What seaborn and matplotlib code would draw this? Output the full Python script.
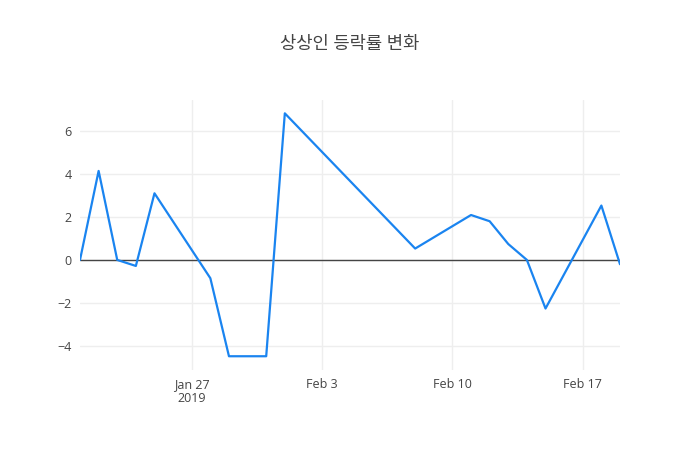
import pandas as pd
import seaborn as sns
import matplotlib.pyplot as plt

dates = ['2019-01-21', '2019-01-22', '2019-01-23', '2019-01-24', '2019-01-25',
         '2019-01-28', '2019-01-29', '2019-01-30', '2019-01-31', '2019-02-01',
         '2019-02-08', '2019-02-11', '2019-02-12', '2019-02-13', '2019-02-14',
         '2019-02-15', '2019-02-18', '2019-02-19']
change = [0.0, 4.14, 0.0, -0.28, 3.1,
          -0.85, -4.48, -4.48, -4.48, 6.82,
          0.53, 2.09, 1.8, 0.74, 0.0,
          -2.26, 2.53, -0.2]

tick_dates = ['2019-01-27', '2019-02-03', '2019-02-10', '2019-02-17']
tick_labels = ['Jan 27\n2019', 'Feb 3', 'Feb 10', 'Feb 17']
y_ticks = [-4, -2, 0, 2, 4, 6]

df = pd.DataFrame({'date': pd.to_datetime(dates), 'change': change})

sns.set_style('white')
plt.rcParams['font.family'] = ['Open Sans', 'Noto Sans CJK KR', 'DejaVu Sans']

fig = plt.figure(figsize=(7, 4.5), dpi=100)
ax = fig.add_axes([80 / 700, 80 / 450, 540 / 700, 270 / 450])

sns.lineplot(data=df, x='date', y='change', ax=ax, color='#1a84f0', linewidth=1.6, zorder=3)

ax.set_xlim(df['date'].min(), df['date'].max())
ax.set_ylim(-5.12, 7.44)

ax.set_xticks(pd.to_datetime(tick_dates))
ax.set_xticklabels(tick_labels, linespacing=1.1)
ax.set_yticks(y_ticks)
ax.set_yticklabels([f'\u2212{abs(v)}' if v < 0 else str(v) for v in y_ticks])

ax.grid(True, color='#eeeeee', linewidth=1, zorder=0)
ax.axhline(0, color='#444444', linewidth=1, zorder=2)
for s in ax.spines.values():
    s.set_visible(False)
ax.tick_params(length=0, labelsize=9, labelcolor='#444444', pad=6)
ax.set_xlabel('')
ax.set_ylabel('')

fig.suptitle('상상인 등락률 변화', y=1 - 44 / 450, va='center', fontsize=12.75, color='#444444')

fig.savefig('out.png', dpi=100)
